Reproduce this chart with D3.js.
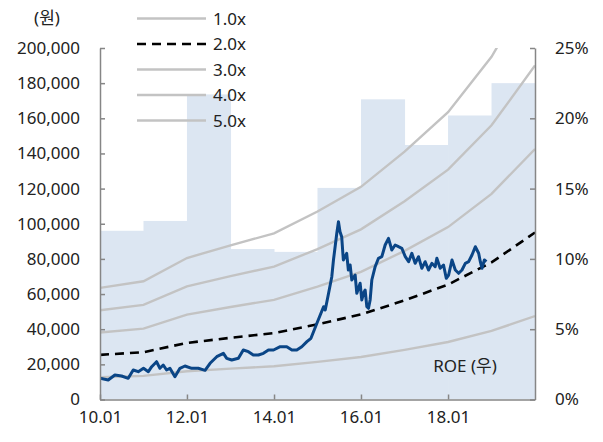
<!DOCTYPE html>
<html>
<head>
<meta charset="utf-8">
<script src="https://cdn.jsdelivr.net/npm/d3@7"></script>
<style>
  body { margin: 0; background: #fff; }
  text { font-family: "Noto Sans", "Noto Sans CJK KR", sans-serif; fill: #222; }
</style>
</head>
<body>
<div id="chart"></div>
<script>
// annual ROE (right axis, %)
const roeYears = ["2010", "2011", "2012", "2013", "2014", "2015", "2016", "2017", "2018", "2019"];
const roeValues = [12.0, 12.7, 21.7, 10.7, 10.5, 15.05, 21.35, 18.1, 20.2, 22.5];

// BPS used for the PBR band (won)
const bpsDates = ["2010-01-01", "2011-01-01", "2012-01-01", "2013-01-01", "2014-01-01", "2015-01-01",
  "2016-01-01", "2017-01-01", "2018-01-01", "2019-01-01", "2020-01-01"];
const bpsValues = [12700, 13450, 16100, 17550, 18900, 21400, 24200, 28200, 32700, 39000, 47500];
const bandMultiples = [1, 2, 3, 4, 5];
const bandLabels = ["1.0x", "2.0x", "3.0x", "4.0x", "5.0x"];

// share price (won)
const priceDates = ["2010-01-01", "2010-03-11", "2010-05-06", "2010-07-01", "2010-08-26", "2010-10-07",
  "2010-11-18", "2011-01-01", "2011-02-11", "2011-03-11", "2011-04-21", "2011-05-19", "2011-06-16",
  "2011-07-14", "2011-08-11", "2011-09-22", "2011-11-03", "2011-12-15", "2012-02-10", "2012-04-05",
  "2012-06-01", "2012-07-13", "2012-09-07", "2012-11-02", "2012-11-30", "2013-01-11", "2013-03-08",
  "2013-04-18", "2013-05-31", "2013-07-11", "2013-08-23", "2013-10-04", "2013-11-15", "2013-12-28",
  "2014-02-22", "2014-04-18", "2014-05-31", "2014-07-11", "2014-08-22", "2014-10-04", "2014-11-07",
  "2014-12-27", "2015-01-24", "2015-02-21", "2015-03-07", "2015-04-04", "2015-05-01", "2015-05-15",
  "2015-06-12", "2015-06-26", "2015-07-09", "2015-07-23", "2015-08-06", "2015-09-03", "2015-09-17",
  "2015-10-02", "2015-10-16", "2015-11-13", "2015-11-27", "2015-12-25", "2016-01-08", "2016-01-22",
  "2016-02-05", "2016-02-19", "2016-03-04", "2016-03-18", "2016-04-01", "2016-04-29", "2016-05-27",
  "2016-06-24", "2016-07-22", "2016-08-19", "2016-09-16", "2016-10-14", "2016-11-11", "2016-12-09",
  "2017-01-07", "2017-02-04", "2017-03-03", "2017-03-31", "2017-04-28", "2017-05-26", "2017-06-23",
  "2017-07-21", "2017-08-18", "2017-09-15", "2017-09-29", "2017-10-27", "2017-11-24", "2017-12-17",
  "2018-01-06", "2018-02-03", "2018-03-03", "2018-03-31", "2018-04-28", "2018-05-26", "2018-06-23",
  "2018-07-21", "2018-08-18", "2018-09-15", "2018-09-29", "2018-10-13", "2018-11-02", "2018-11-19"];
const priceValues = [12060, 11100, 13900, 13370, 12060, 16790,
  15820, 17750, 15820, 18660, 21500, 17750, 19630,
  16790, 17750, 12970, 17750, 19060, 17750, 17750,
  16600, 20600, 24350, 26290, 23440, 22480, 23440,
  28170, 27200, 25320, 25320, 26290, 28170, 28170,
  30040, 30040, 28170, 28170, 30040, 32890, 34820,
  43360, 48080, 52800, 50920, 60430, 69870, 79380,
  94570, 101170, 95480, 92630, 79380, 83190, 73690,
  76530, 67990, 70840, 60430, 66120, 56620, 60430,
  62310, 52800, 51900, 56620, 67990, 75560, 80340,
  81250, 87910, 91720, 85070, 87910, 86940, 86030,
  81250, 78410, 83190, 77500, 81250, 74650, 78410,
  73690, 77500, 75560, 80340, 74650, 76530, 68960,
  70840, 79380, 73690, 71810, 73690, 77500, 78410,
  82220, 86940, 83190, 78410, 74650, 79380, 78410];

const leftTicks = [0, 20000, 40000, 60000, 80000, 100000, 120000, 140000, 160000, 180000, 200000];
const rightTicks = [0, 5, 10, 15, 20, 25];
const xTickDates = ["2010-01-01", "2012-01-01", "2014-01-01", "2016-01-01", "2018-01-01"];

const W = 603, H = 442;
const plotL = 100, plotR = 535, plotT = 48, plotB = 399.5;
const parse = d3.timeParse("%Y-%m-%d");

const svg = d3.select("#chart").append("svg")
  .attr("width", W)
  .attr("height", H);

const x = d3.scaleTime()
  .domain([parse("2010-01-01"), parse("2020-01-01")])
  .range([plotL, plotR]);
const y = d3.scaleLinear().domain([0, 200000]).range([plotB, plotT]);
const yr = d3.scaleLinear().domain([0, 25]).range([plotB, plotT]);

svg.append("clipPath").attr("id", "plot")
  .append("rect")
  .attr("x", plotL).attr("y", plotT)
  .attr("width", plotR - plotL).attr("height", plotB - plotT);

const plot = svg.append("g").attr("clip-path", "url(#plot)");

// ROE bars
plot.selectAll("rect.roe")
  .data(roeYears)
  .enter()
  .append("rect")
  .attr("class", "roe")
  .attr("x", d => x(parse(d + "-01-01")))
  .attr("width", d => x(parse((+d + 1) + "-01-01")) - x(parse(d + "-01-01")) + 0.5)
  .attr("y", (d, i) => yr(roeValues[i]))
  .attr("height", (d, i) => plotB - yr(roeValues[i]))
  .attr("fill", "#dce6f2");

// PBR band lines
const bandLine = m => d3.line()
  .x((d, i) => x(parse(d)))
  .y((d, i) => y(bpsValues[i] * m));

bandMultiples.forEach((m, k) => {
  plot.append("path")
    .datum(bpsDates)
    .attr("fill", "none")
    .attr("stroke", k == 1 ? "#000" : "#c3c3c3")
    .attr("stroke-width", k == 1 ? 2.6 : 2.4)
    .attr("stroke-dasharray", k == 1 ? "9,6" : null)
    .attr("d", bandLine(m));
});

// price line
const priceLine = d3.line()
  .x(d => x(parse(d)))
  .y((d, i) => y(priceValues[i]))
  .curve(d3.curveLinear);

plot.append("path")
  .datum(priceDates)
  .attr("fill", "none")
  .attr("stroke", "#0a4586")
  .attr("stroke-width", 3)
  .attr("stroke-linejoin", "round")
  .attr("d", priceLine);

// axes
const axisColor = "#868686";
const fmt = d3.format(",");

const gl = svg.append("g")
  .attr("transform", `translate(${plotL},0)`)
  .call(d3.axisLeft(y).tickValues(leftTicks).tickSize(-5).tickSizeOuter(0).tickFormat(fmt));
gl.selectAll("text").attr("x", -20).style("font-size", "17px");

const gr = svg.append("g")
  .attr("transform", `translate(${plotR},0)`)
  .call(d3.axisRight(yr).tickValues(rightTicks).tickSize(-5).tickSizeOuter(0).tickFormat(d => d + "%"));
gr.selectAll("text").attr("x", 20).style("font-size", "17px");

const gb = svg.append("g")
  .attr("transform", `translate(0,${plotB})`)
  .call(d3.axisBottom(x).tickValues(xTickDates.map(parse)).tickSize(-5).tickSizeOuter(0)
    .tickFormat(d3.timeFormat("%y.%m")));
gb.selectAll("text").attr("y", 11).style("font-size", "17px");

[gl, gr, gb].forEach(g => {
  g.attr("font-family", null);
  g.selectAll("path, line").attr("stroke", axisColor).attr("stroke-width", 1.5);
  g.selectAll("text").style("fill", "#222");
});

// unit and ROE label
svg.append("text")
  .attr("x", 47).attr("y", 24)
  .attr("text-anchor", "middle")
  .style("font-size", "17px")
  .text("(원)");

svg.append("text")
  .attr("x", 465).attr("y", 372)
  .attr("text-anchor", "middle")
  .style("font-size", "17px")
  .text("ROE (우)");

// legend
const legend = svg.append("g");
bandLabels.forEach((lab, k) => {
  const ly = 18.5 + k * 25.5;
  legend.append("line")
    .attr("x1", 137).attr("x2", 206)
    .attr("y1", ly).attr("y2", ly)
    .attr("stroke", k == 1 ? "#000" : "#c3c3c3")
    .attr("stroke-width", k == 1 ? 2.6 : 2.4)
    .attr("stroke-dasharray", k == 1 ? "9,6" : null);
  legend.append("text")
    .attr("x", 213).attr("y", ly + 6)
    .style("font-size", "17px")
    .text(lab);
});
</script>
</body>
</html>
